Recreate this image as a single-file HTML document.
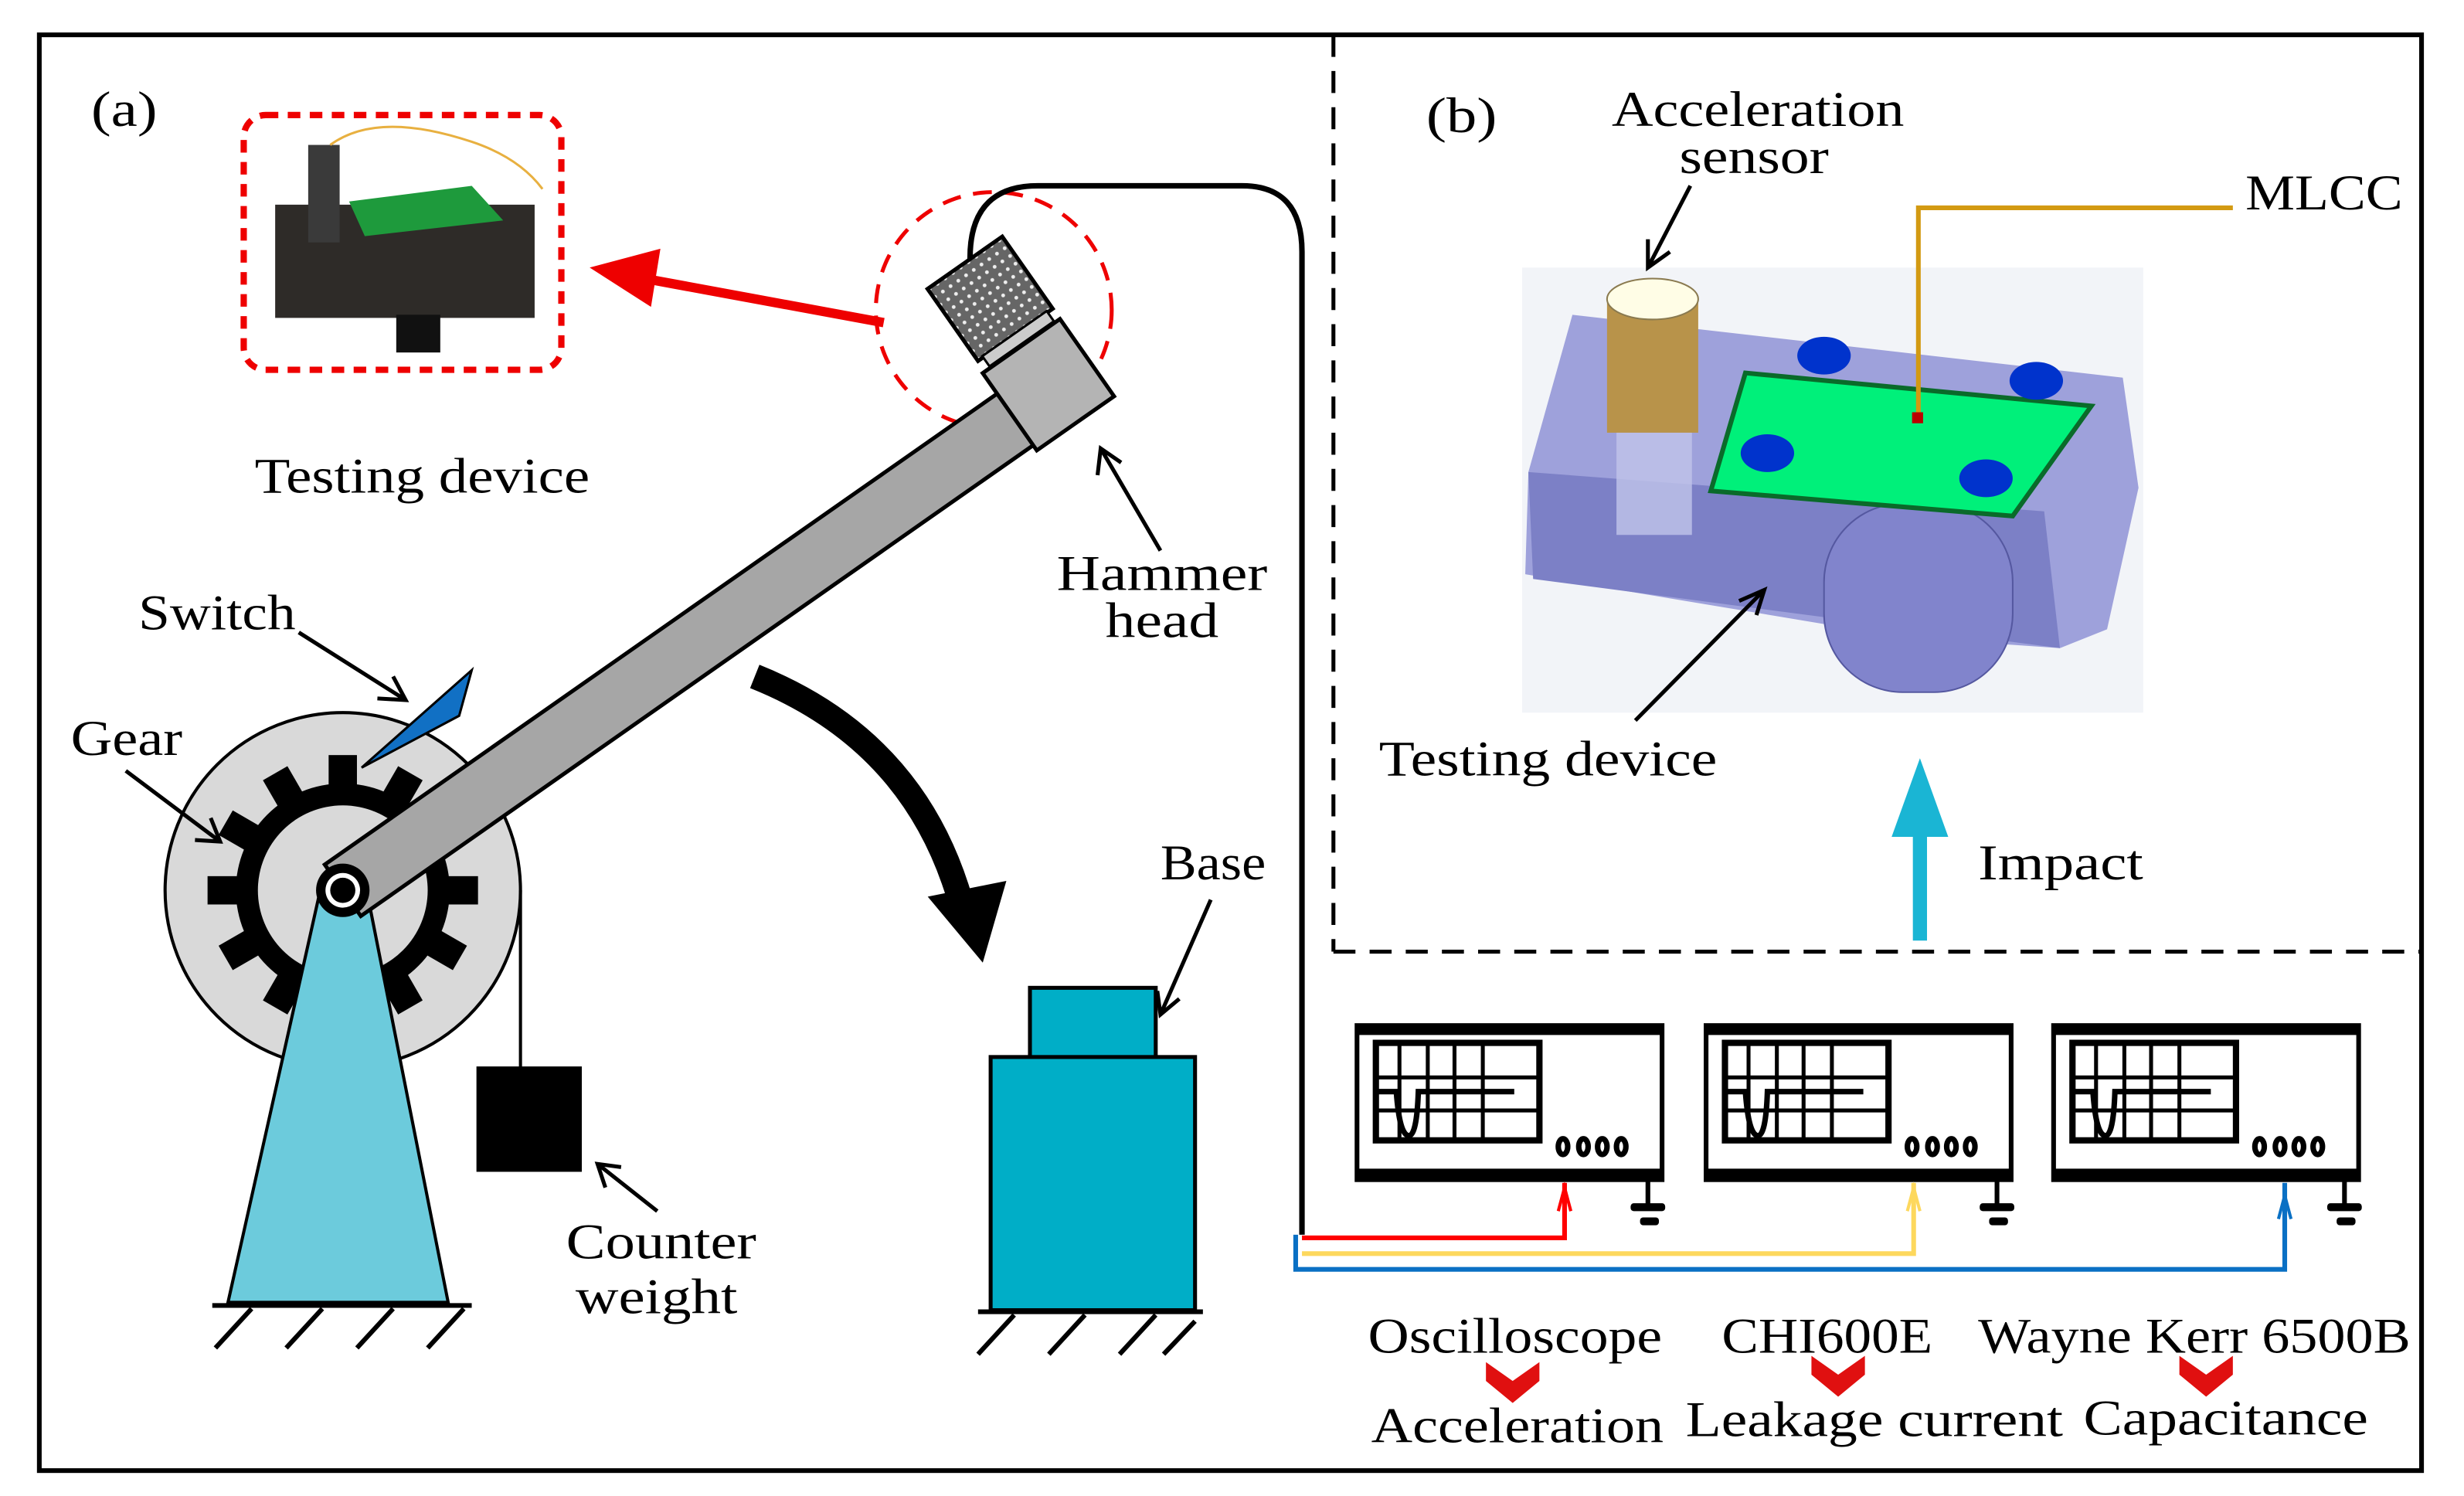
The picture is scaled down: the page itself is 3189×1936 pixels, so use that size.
<!DOCTYPE html>
<html><head><meta charset="utf-8"><style>html,body{margin:0;padding:0;background:#fff}svg{display:block}</style></head><body>
<svg width="3189" height="1936" viewBox="0 0 1567 951" xmlns="http://www.w3.org/2000/svg" font-family="Liberation Serif, serif">
<defs>
<pattern id="dots" width="6" height="6" patternUnits="userSpaceOnUse"><rect width="6" height="6" fill="#666"/><circle cx="3" cy="3" r="1.2" fill="#eee"/></pattern>
<g id="scope">
<rect x="0" y="0" width="194" height="98" fill="#fff" stroke="#000" stroke-width="3"/>
<rect x="0" y="0" width="194" height="6" fill="#000"/>
<rect x="0" y="91" width="194" height="7" fill="#000"/>
<rect x="12" y="11" width="104" height="62" fill="#fff" stroke="#000" stroke-width="4"/>
<g stroke="#000" stroke-width="2.5"><line x1="27" y1="11" x2="27" y2="73"/><line x1="45" y1="11" x2="45" y2="73"/><line x1="62" y1="11" x2="62" y2="73"/><line x1="80" y1="11" x2="80" y2="73"/><line x1="12" y1="33" x2="116" y2="33"/><line x1="12" y1="54" x2="116" y2="54"/></g>
<path d="M12 42 L25 42 Q27 70 33 70 Q38 70 39 42 L100 42" fill="none" stroke="#000" stroke-width="3.5"/>
<g fill="#fff" stroke="#000" stroke-width="3.5"><ellipse cx="131" cy="77" rx="3" ry="5"/><ellipse cx="144" cy="77" rx="3" ry="5"/><ellipse cx="156" cy="77" rx="3" ry="5"/><ellipse cx="168" cy="77" rx="3" ry="5"/></g>
<line x1="185" y1="98" x2="185" y2="115" stroke="#000" stroke-width="3"/>
<rect x="174" y="113" width="22" height="5" rx="2" fill="#000"/>
<rect x="180" y="122" width="12" height="5" rx="2" fill="#000"/>
</g>
</defs>
<rect x="25" y="22" width="1515" height="913" fill="#fff" stroke="#000" stroke-width="3"/>
<line x1="848" y1="22" x2="848" y2="605" stroke="#000" stroke-width="2.5" stroke-dasharray="14,9"/>
<line x1="848" y1="605" x2="1540" y2="605" stroke="#000" stroke-width="2.5" stroke-dasharray="14,9"/>

<g font-size="32" lengthAdjust="spacingAndGlyphs">
<text x="58" y="80" textLength="42" lengthAdjust="spacingAndGlyphs">(a)</text>
<text x="907" y="84" textLength="45" lengthAdjust="spacingAndGlyphs">(b)</text>
</g>
<!-- photo -->
<rect x="155" y="73" width="202" height="162" rx="14" fill="#fff" stroke="#e00" stroke-width="4" stroke-dasharray="8,6"/>
<rect x="175" y="130" width="165" height="72" fill="#2e2b28"/>
<rect x="252" y="200" width="28" height="24" fill="#111"/>
<polygon points="222,128 300,118 320,140 232,150" fill="#1e9a3c"/>
<rect x="196" y="92" width="20" height="62" fill="#3a3a3a"/>
<path d="M210 92 Q240 70 300 90 Q330 100 345 120" fill="none" stroke="#e8b040" stroke-width="1.5"/>
<!-- red arrow -->
<line x1="562" y1="205" x2="410" y2="177" stroke="#e00" stroke-width="6"/>
<polygon points="375,170 420,158 414,195" fill="#e00"/>
<circle cx="632" cy="197" r="75" fill="none" stroke="#e00" stroke-width="2.5" stroke-dasharray="12,8"/>
<!-- cable -->
<path d="M617 168 Q615 118 660 118 L790 118 Q828 118 828 160 L828 785" fill="none" stroke="#000" stroke-width="3.5"/>
<!-- disc -->
<circle cx="218" cy="566" r="113" fill="#d9d9d9" stroke="#000" stroke-width="2"/>
<g transform="translate(218,566)">
<g fill="#000">
<rect x="-9" y="-86" width="18" height="22"/><rect x="-9" y="-86" width="18" height="22" transform="rotate(30)"/><rect x="-9" y="-86" width="18" height="22" transform="rotate(60)"/><rect x="-9" y="-86" width="18" height="22" transform="rotate(90)"/><rect x="-9" y="-86" width="18" height="22" transform="rotate(120)"/><rect x="-9" y="-86" width="18" height="22" transform="rotate(150)"/><rect x="-9" y="-86" width="18" height="22" transform="rotate(180)"/><rect x="-9" y="-86" width="18" height="22" transform="rotate(210)"/><rect x="-9" y="-86" width="18" height="22" transform="rotate(240)"/><rect x="-9" y="-86" width="18" height="22" transform="rotate(270)"/><rect x="-9" y="-86" width="18" height="22" transform="rotate(300)"/><rect x="-9" y="-86" width="18" height="22" transform="rotate(330)"/>
</g>
<circle r="68" fill="#000"/>
<circle r="54" fill="#d9d9d9"/>
</g>
<polygon points="205,560 232,560 285,828 145,828" fill="#6ccbdc" stroke="#000" stroke-width="2"/>
<line x1="135" y1="830" x2="300" y2="830" stroke="#000" stroke-width="3"/>
<g stroke="#000" stroke-width="3"><line x1="160" y1="832" x2="137" y2="857"/><line x1="205" y1="832" x2="182" y2="857"/><line x1="250" y1="832" x2="227" y2="857"/><line x1="295" y1="832" x2="272" y2="857"/></g>
<line x1="331" y1="566" x2="331" y2="680" stroke="#000" stroke-width="2"/>
<rect x="303" y="678" width="67" height="67" fill="#000"/>
<!-- arm -->
<g transform="translate(218,566) rotate(-35)">
<rect x="0" y="-20" width="525" height="40" fill="#a6a6a6" stroke="#000" stroke-width="2.5"/>
<rect x="522" y="-36" width="60" height="60" fill="#b4b4b4" stroke="#000" stroke-width="2.5"/>
<rect x="524" y="-100" width="58" height="56" fill="url(#dots)" stroke="#000" stroke-width="2.5"/>
<rect x="528" y="-45" width="50" height="8" fill="#ccc" stroke="#000" stroke-width="1.5"/>
</g>
<circle cx="218" cy="566" r="17" fill="#000"/>
<circle cx="218" cy="566" r="11" fill="#fff"/>
<circle cx="218" cy="566" r="8" fill="#000"/>
<polygon points="230,488 300,426 292,455" fill="#1170c4" stroke="#000" stroke-width="1.5"/>
<path d="M480 430 Q580 470 610 570" fill="none" stroke="#000" stroke-width="16"/>
<polygon points="590,570 640,560 625,612" fill="#000"/>
<rect x="655" y="628" width="80" height="45" fill="#00aec7" stroke="#000" stroke-width="2.5"/>
<rect x="630" y="672" width="130" height="161" fill="#00aec7" stroke="#000" stroke-width="2.5"/>
<line x1="622" y1="834" x2="765" y2="834" stroke="#000" stroke-width="3"/>
<g stroke="#000" stroke-width="3"><line x1="645" y1="836" x2="622" y2="861"/><line x1="690" y1="836" x2="667" y2="861"/><line x1="735" y1="836" x2="712" y2="861"/><line x1="760" y1="840" x2="740" y2="861"/></g>
<g font-size="32">
<text x="162" y="313" textLength="213" lengthAdjust="spacingAndGlyphs">Testing device</text>
<text x="88" y="400" textLength="100" lengthAdjust="spacingAndGlyphs">Switch</text>
<text x="45" y="480" textLength="71" lengthAdjust="spacingAndGlyphs">Gear</text>
<text x="672" y="375" textLength="134" lengthAdjust="spacingAndGlyphs">Hammer</text>
<text x="703" y="405" textLength="72" lengthAdjust="spacingAndGlyphs">head</text>
<text x="360" y="800" textLength="121" lengthAdjust="spacingAndGlyphs">Counter</text>
<text x="366" y="835" textLength="103" lengthAdjust="spacingAndGlyphs">weight</text>
<text x="738" y="559" textLength="67" lengthAdjust="spacingAndGlyphs">Base</text>
</g>
<g stroke="#000" stroke-width="2.5" fill="none">
<path d="M190 402 L258 445 M240 444 L258 445 L250 430"/>
<path d="M80 490 L140 535 M124 534 L140 535 L134 520"/>
<path d="M738 350 L700 285 M698 302 L700 285 L713 294"/>
<path d="M418 770 L380 740 M385 755 L380 740 L395 742"/>
<path d="M770 572 L738 645 M736 630 L738 645 L750 635"/>
</g>
<!-- panel b -->
<rect x="968" y="170" width="395" height="283" fill="#f2f4f8"/>
<polygon points="1000,200 1350,240 1360,310 1340,400 1310,412 1210,405 970,365 972,300" fill="#8f92d6" opacity="0.85"/>
<polygon points="972,300 1300,325 1310,412 975,368" fill="#7c80c6"/>
<rect x="1160" y="320" width="120" height="120" rx="50" fill="#8184cc" stroke="#5558a0"/>
<polygon points="1110,237 1330,258 1280,328 1088,312" fill="#00f07a" stroke="#0a6a2a" stroke-width="3"/>
<g fill="#0033cc"><ellipse cx="1160" cy="226" rx="17" ry="12"/><ellipse cx="1295" cy="242" rx="17" ry="12"/><ellipse cx="1124" cy="288" rx="17" ry="12"/><ellipse cx="1263" cy="304" rx="17" ry="12"/></g>
<rect x="1022" y="190" width="58" height="85" fill="#b8934a"/>
<ellipse cx="1051" cy="190" rx="29" ry="13" fill="#fffde6" stroke="#8a7a50"/>
<rect x="1028" y="275" width="48" height="65" fill="#c0c4ea" opacity="0.8"/>
<rect x="1216" y="262" width="7" height="7" fill="#b00"/>
<path d="M1220 262 L1220 132 L1420 132" fill="none" stroke="#d39a12" stroke-width="3"/>
<g font-size="32">
<text x="1025" y="80" textLength="186" lengthAdjust="spacingAndGlyphs">Acceleration</text>
<text x="1068" y="110" textLength="95" lengthAdjust="spacingAndGlyphs">sensor</text>
<text x="1428" y="133" textLength="100" lengthAdjust="spacingAndGlyphs">MLCC</text>
<text x="877" y="493" textLength="215" lengthAdjust="spacingAndGlyphs">Testing device</text>
<text x="1258" y="559" textLength="105" lengthAdjust="spacingAndGlyphs">Impact</text>
</g>
<g stroke="#000" stroke-width="2.5" fill="none">
<path d="M1075 118 L1048 170 M1048 152 L1048 170 L1062 160"/>
<path d="M1040 458 L1122 375 M1106 382 L1122 375 L1117 391"/>
</g>
<line x1="1221" y1="598" x2="1221" y2="525" stroke="#1ab5d4" stroke-width="9"/>
<polygon points="1203,532 1221,482 1239,532" fill="#1ab5d4"/>
<use href="#scope" x="863" y="652"/>
<use href="#scope" x="1085" y="652"/>
<use href="#scope" x="1306" y="652"/>
<path d="M828 787 L995 787 L995 752" fill="none" stroke="#f00" stroke-width="3"/>
<path d="M828 797 L1217 797 L1217 752" fill="none" stroke="#fdd85d" stroke-width="3"/>
<path d="M824 785 L824 807 L1453 807 L1453 752" fill="none" stroke="#0a70c4" stroke-width="3"/>
<path d="M991 770 L995 755 L999 770" fill="none" stroke="#f00" stroke-width="2"/>
<path d="M1213 770 L1217 755 L1221 770" fill="none" stroke="#fdd85d" stroke-width="2"/>
<path d="M1449 775 L1453 760 L1457 775" fill="none" stroke="#0a70c4" stroke-width="2"/>
<g font-size="32">
<text x="870" y="860" textLength="187" lengthAdjust="spacingAndGlyphs">Oscilloscope</text>
<text x="1095" y="860" textLength="134" lengthAdjust="spacingAndGlyphs">CHI600E</text>
<text x="1258" y="860" textLength="275" lengthAdjust="spacingAndGlyphs">Wayne Kerr 6500B</text>
<text x="872" y="917" textLength="186" lengthAdjust="spacingAndGlyphs">Acceleration</text>
<text x="1072" y="913" textLength="240" lengthAdjust="spacingAndGlyphs">Leakage current</text>
<text x="1325" y="912" textLength="181" lengthAdjust="spacingAndGlyphs">Capacitance</text>
</g>
<g fill="#e01010">
<polygon points="945,866 962,878 979,866 979,878 962,892 945,878"/>
<polygon points="1152,862 1169,874 1186,862 1186,874 1169,888 1152,874"/>
<polygon points="1386,862 1403,874 1420,862 1420,874 1403,888 1386,874"/>
</g>
</svg>
</body></html>
